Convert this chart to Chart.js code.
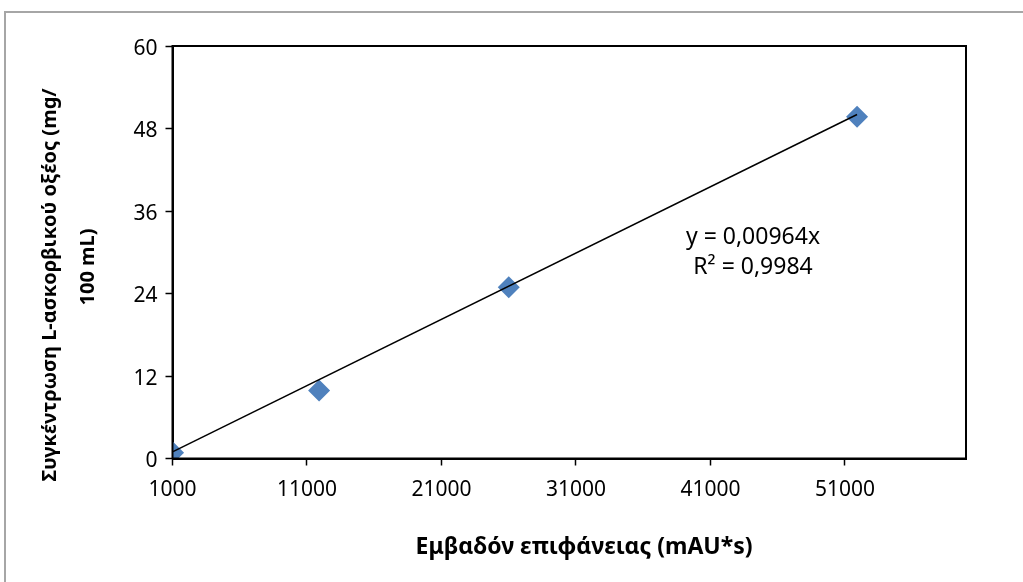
<!DOCTYPE html>
<html lang="el">
<head>
<meta charset="UTF-8">
<title>Καμπύλη αναφοράς L-ασκορβικού οξέος</title>
<script src="https://cdn.jsdelivr.net/npm/chart.js"></script>
<style>
    html, body {
        margin: 0;
        padding: 0;
        background: #fff;
    }
</style>
</head>
<body>
<canvas id="calChart" width="1023" height="582"></canvas>

<script>
// standards: peak area (mAU*s) vs concentration (mg / 100 mL)
const peakAreas = [1040, 11900, 26000, 51900];
const concentrations = [0.85, 9.9, 24.9, 49.7];

const xTicks = [1000, 11000, 21000, 31000, 41000, 51000];
const yTicks = [0, 12, 24, 36, 48, 60];
const xRange = [1000, 60000];
const yRange = [0, 60];

// linear fit through the origin
const trendSlope = 0.000964;
const equationLines = ['y = 0,00964x', 'R² = 0,9984'];

const xTitle = 'Εμβαδόν επιφάνειας (mAU*s)';
const yTitleLines = ['Συγκέντρωση L-ασκορβικού οξέος (mg/', '100 mL)'];

const FONT = "'Noto Sans', sans-serif";
Chart.defaults.font.family = FONT;
Chart.defaults.color = '#000';

const points = peakAreas.map((x, i) => ({ x: x, y: concentrations[i] }));
const xFirst = Math.min(...peakAreas);
const xLast = Math.max(...peakAreas);
const trendPoints = [
    { x: xFirst, y: trendSlope * xFirst },
    { x: xLast, y: trendSlope * xLast }
];

// white page, grey outer frame, plot box, axis titles and the fit equation
const decorations = {
    id: 'decorations',
    beforeDraw(chart) {
        const ctx = chart.ctx;
        ctx.save();
        ctx.fillStyle = '#fff';
        ctx.fillRect(0, 0, chart.width, chart.height);
        ctx.strokeStyle = '#a6a6a6';
        ctx.lineWidth = 2;
        ctx.strokeRect(5, 12, chart.width + 50, chart.height + 50);
        ctx.restore();
    },
    afterDraw(chart) {
        const ctx = chart.ctx;
        const a = chart.chartArea;
        ctx.save();
        ctx.strokeStyle = '#000';
        ctx.lineWidth = 2;
        ctx.strokeRect(a.left, a.top, a.right - a.left, a.bottom - a.top);

        ctx.fillStyle = '#000';
        ctx.textAlign = 'center';
        ctx.textBaseline = 'middle';

        ctx.font = 'bold 23px ' + FONT;
        ctx.fillText(xTitle, 584, 547);

        ctx.font = 'bold 20px ' + FONT;
        ctx.save();
        ctx.translate(50, 285);
        ctx.rotate(-Math.PI / 2);
        ctx.fillText(yTitleLines[0], 0, 0);
        ctx.restore();
        ctx.save();
        ctx.translate(88, 267);
        ctx.rotate(-Math.PI / 2);
        ctx.fillText(yTitleLines[1], 0, 0);
        ctx.restore();

        ctx.font = '23px ' + FONT;
        ctx.fillText(equationLines[0], 753, 237);
        ctx.fillText(equationLines[1], 753, 267);
        ctx.restore();
    }
};

const ctx = document.getElementById('calChart').getContext('2d');
new Chart(ctx, {
    type: 'scatter',
    data: {
        datasets: [{
            label: 'Πρότυπα',
            data: points,
            pointStyle: 'rectRot',
            pointRadius: 11,
            pointHoverRadius: 11,
            backgroundColor: '#4f81bd',
            borderColor: '#4f81bd',
            borderWidth: 0,
            order: 2
        }, {
            label: 'Γραμμική',
            type: 'line',
            data: trendPoints,
            borderColor: '#000',
            borderWidth: 1.5,
            pointRadius: 0,
            fill: false,
            order: 1
        }]
    },
    options: {
        responsive: false,
        animation: false,
        layout: {
            autoPadding: false,
            padding: { top: 46, right: 57, bottom: 0, left: 0 }
        },
        plugins: {
            legend: { display: false },
            tooltip: { enabled: false }
        },
        scales: {
            x: {
                type: 'linear',
                min: xRange[0],
                max: xRange[1],
                border: { color: '#000', width: 2 },
                grid: { drawOnChartArea: false, tickLength: 7, tickColor: '#000', tickWidth: 1.5 },
                ticks: {
                    font: { size: 21 },
                    padding: 12,
                    maxRotation: 0,
                    color: '#000',
                    callback: v => String(v)
                },
                afterBuildTicks: s => { s.ticks = xTicks.map(v => ({ value: v })); },
                afterFit: s => { s.height = 123.5; }
            },
            y: {
                min: yRange[0],
                max: yRange[1],
                border: { color: '#000', width: 2 },
                grid: { drawOnChartArea: false, tickLength: 7, tickColor: '#000', tickWidth: 1.5 },
                ticks: {
                    font: { size: 21 },
                    padding: 8,
                    labelOffset: 3,
                    color: '#000',
                    callback: v => String(v)
                },
                afterBuildTicks: s => { s.ticks = yTicks.map(v => ({ value: v })); },
                afterFit: s => { s.width = 172.5; }
            }
        }
    },
    plugins: [decorations]
});
</script>
</body>
</html>
